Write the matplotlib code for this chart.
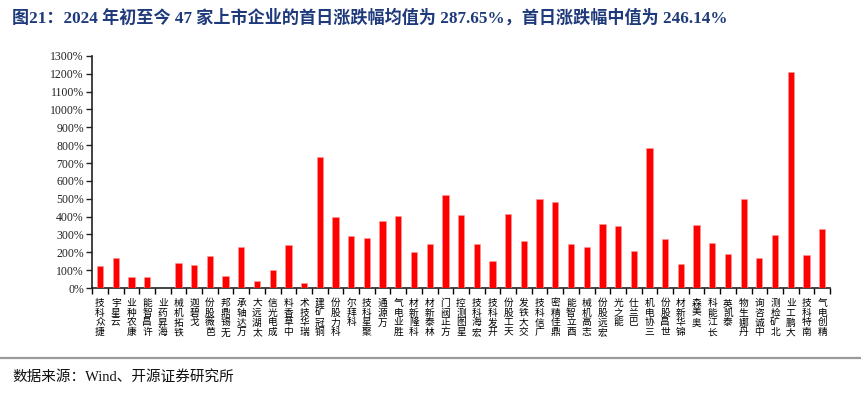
#!/usr/bin/env python3
"""Recreate the first-day return bar chart (out.png)."""
import matplotlib
matplotlib.use("Agg")
import matplotlib.pyplot as plt
import numpy as np
from matplotlib.ticker import FixedLocator, FuncFormatter

COMPANIES = [
    "捷众科技", "云星宇", "康农种业", "许昌智能", "海昇药业", "铁拓机械", "戈碧迦",
    "芭薇股份", "无锡鼎邦", "万达轴承", "太湖远大", "成电光信", "中草香料", "瑞华技术",
    "铜冠矿建", "科力股份", "科拜尔", "聚星科技", "万源通", "胜业电气", "科隆新材",
    "林泰新材", "方正阀门", "星图测控", "宏海科技", "开发科技", "天工股份", "交大铁发",
    "广信科技", "鼎佳精密", "酉立智能", "志高机械", "宏远股份", "能之光", "巴兰仕",
    "三协电机", "世昌股份", "锦华新材", "奥美森", "长江能科", "泰凯英", "丹娜生物",
    "中诚咨询", "北矿检测", "大鹏工业", "南特科技", "精创电气",
]
# first-day change, %
FIRST_DAY_PCT = [
    125, 167, 62, 62, 0, 141, 128, 181, 65, 229, 38, 102, 241, 29,
    733, 398, 294, 281, 374, 406, 202,
    246, 519, 408, 248, 153, 413, 263, 499, 480, 248, 231, 360, 345, 207,
    785, 272, 134, 351, 255, 188, 497, 170, 297, 1210, 183, 332,
]
Y_TICKS = list(range(0, 1301, 100))

TITLE = "图21：2024 年初至今 47 家上市企业的首日涨跌幅均值为 287.65%，首日涨跌幅中值为 246.14%"
SOURCE = "数据来源：Wind、开源证券研究所"

SERIF_CJK = ["Liberation Serif", "Noto Sans CJK SC"]
TITLE_BLUE = "#1F3A7A"
BAR_RED = "#FF0000"


def main() -> None:
    fig = plt.figure(figsize=(8.61, 3.99), dpi=100)
    ax = fig.add_axes([0.107, 0.278, 0.857, 0.582])

    x = np.arange(len(COMPANIES))
    ax.bar(x, FIRST_DAY_PCT, width=0.4, color=BAR_RED, edgecolor="#FF9999",
           linewidth=0.4, zorder=3)

    ax.set_xlim(-0.5, len(COMPANIES) - 0.5)
    ax.set_ylim(0, 1300)

    # y axis
    ax.yaxis.set_major_locator(FixedLocator(Y_TICKS))
    ax.yaxis.set_major_formatter(FuncFormatter(lambda v, _: f"{v:.0f}%"))
    ax.tick_params(axis="y", direction="out", length=4, width=1.0,
                   labelsize=8.5, pad=2, colors="#222222")
    for lab in ax.get_yticklabels():
        lab.set_family(SERIF_CJK)

    # x axis: stacked characters, read bottom to top, anchored under the axis
    stacked = ["\n".join(reversed(name)) for name in COMPANIES]
    ax.set_xticks(x)
    ax.set_xticklabels(stacked, va="top", ha="center", linespacing=0.98,
                       family=["Noto Sans CJK SC", "DejaVu Sans"], fontsize=7)
    ax.set_xticks(np.arange(-0.5, len(COMPANIES)), minor=True)
    ax.tick_params(axis="x", which="major", length=0, pad=7)
    ax.tick_params(axis="x", which="minor", direction="out", length=4, width=1.0)

    for side in ("top", "right"):
        ax.spines[side].set_visible(False)
    for side in ("left", "bottom"):
        ax.spines[side].set_linewidth(1.2)
        ax.spines[side].set_color("#222222")

    fig.text(0.014, 0.955, TITLE, ha="left", va="center", fontsize=12.3,
             fontweight="bold", color=TITLE_BLUE, family=SERIF_CJK)

    fig.add_artist(plt.Line2D([0.0, 1.0], [0.103, 0.103], color="#9A9A9A",
                              linewidth=1.6, transform=fig.transFigure))
    fig.text(0.014, 0.055, SOURCE, ha="left", va="center", fontsize=10.5,
             color="#111111", family=SERIF_CJK)

    fig.savefig("out.png", dpi=100)
    plt.close(fig)


if __name__ == "__main__":
    main()
